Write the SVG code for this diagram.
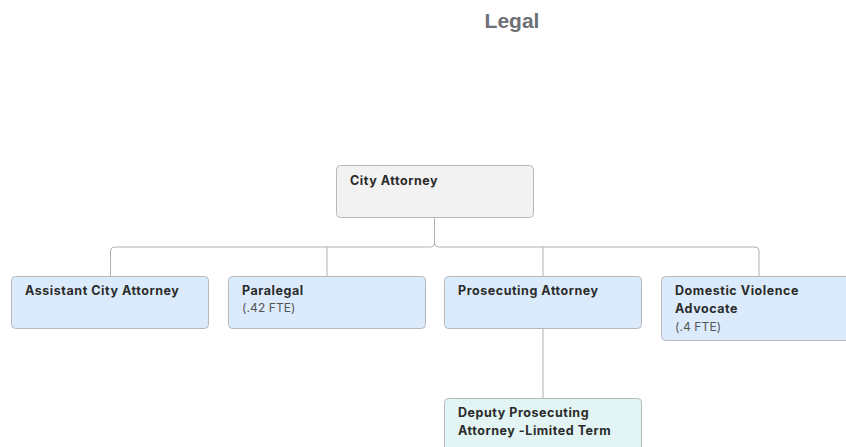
<svg xmlns="http://www.w3.org/2000/svg" width="846" height="447" viewBox="0 0 846 447">
<style>
.box{stroke:#b8b8b8;stroke-width:1}
.root{fill:#f2f2f2}
.blue{fill:#dcebfb}
.teal{fill:#e2f4f3}
.t{font-family:Inter,"Open Sans","Liberation Sans",sans-serif;font-size:12.5px;font-weight:700;fill:#2b2b2b;letter-spacing:0.55px}
.s{font-family:Inter,"Open Sans","Liberation Sans",sans-serif;font-size:12px;font-weight:400;fill:#555;letter-spacing:0.1px}
.conn{fill:none;stroke:#b0b0b0;stroke-width:1}
</style>
<rect width="846" height="447" fill="#ffffff"/>
<text x="512" y="28" text-anchor="middle" font-family="'Liberation Sans',Arial,sans-serif" font-size="21" font-weight="700" fill="#6d7075">Legal</text>
<g id="connectors">
<path class="conn" d="M434.5 218 V243 Q434.5 247 430.5 247 H114.5 Q110.5 247 110.5 251 V276"/>
<path class="conn" d="M434.5 243 Q434.5 247 438.5 247 H755 Q759 247 759 251 V276"/>
<path class="conn" d="M327 247 V276"/>
<path class="conn" d="M543 247 V276"/>
<path class="conn" d="M543 328 V398"/>
</g>
<g id="city-attorney">
<rect class="box root" x="336.5" y="165.5" width="197" height="52" rx="4"/>
<text class="t" x="350" y="185">City Attorney</text>
</g>
<g id="assistant-city-attorney">
<rect class="box blue" x="11.5" y="276.5" width="197" height="52" rx="4"/>
<text class="t" x="25" y="295">Assistant City Attorney</text>
</g>
<g id="paralegal">
<rect class="box blue" x="228.5" y="276.5" width="197" height="52" rx="4"/>
<text class="t" x="242" y="295">Paralegal</text>
<text class="s" x="242" y="312">(.42 FTE)</text>
</g>
<g id="prosecuting-attorney">
<rect class="box blue" x="444.5" y="276.5" width="197" height="52" rx="4"/>
<text class="t" x="458" y="295">Prosecuting Attorney</text>
</g>
<g id="domestic-violence-advocate">
<rect class="box blue" x="661.5" y="276.5" width="197" height="64" rx="4"/>
<text class="t" x="675" y="295">Domestic Violence</text>
<text class="t" x="675" y="313">Advocate</text>
<text class="s" x="675" y="331">(.4 FTE)</text>
</g>
<g id="deputy-prosecuting-attorney">
<rect class="box teal" x="444.5" y="398.5" width="197" height="64" rx="4"/>
<text class="t" x="458" y="417">Deputy Prosecuting</text>
<text class="t" x="458" y="435">Attorney -Limited Term</text>
</g>
</svg>
